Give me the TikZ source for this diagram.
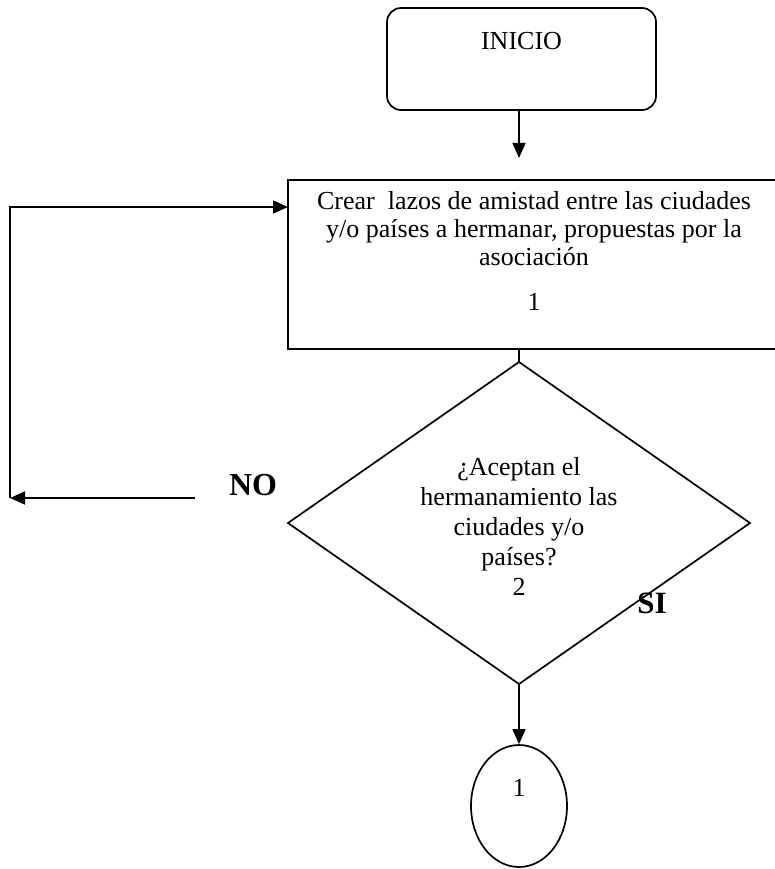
\documentclass[tikz,border=0pt]{standalone}
\usepackage{fontspec}
\setmainfont{Liberation Serif}
\usetikzlibrary{shapes.geometric,arrows.meta}
\begin{document}
\begin{tikzpicture}[x=1pt,y=-1pt,
  line width=1.7pt,
  every node/.style={font=\fontsize{26}{29.5}\selectfont},
  arr/.style={-{Triangle[length=15pt,width=13pt]}},
  startbox/.style={draw,rounded corners=14pt,minimum width=269pt,minimum height=102pt,inner sep=0pt},
  procbox/.style={draw,minimum width=492pt,minimum height=169pt,inner sep=0pt},
  decbox/.style={draw,diamond,shape aspect=1.43,minimum width=462pt,minimum height=322pt,inner sep=0pt,outer sep=0pt,align=center},
  connbox/.style={draw,ellipse,minimum width=96pt,minimum height=122pt,inner sep=0pt},
  lbl/.style={font=\bfseries\fontsize{32}{36}\selectfont,inner sep=0pt}]
\useasboundingbox (0,0) rectangle (775,869);

\node[startbox,label={[yshift=17.5pt]center:INICIO}] (start) at (521.5,59) {};
\node[procbox,label={[yshift=13.5pt,align=center,font=\fontsize{26}{28}\selectfont]center:{Crear\ \ lazos de amistad entre las ciudades\\ y/o países a hermanar, propuestas por la\\ asociación\\[17pt] 1}}] (proc) at (534,264.5) {};
\node[decbox,font=\fontsize{26}{30}\selectfont,label={[yshift=-3pt,align=center,font=\fontsize{26}{30}\selectfont]center:{¿Aceptan el\\ hermanamiento las\\ ciudades y/o\\ países?\\ 2}}] (dec) at (519,523) {};
\node[connbox,label={[yshift=18pt]center:1}] (conn) at (519,806) {};

\node[lbl] (no) at (253,485) {NO};
\node[lbl,font=\bfseries\fontsize{31}{35}\selectfont] (si) at (652,603) {SI};

\coordinate (nostart) at (195,498);
\coordinate (nocorner) at (10,498);
\coordinate (back) at (288,207);

\draw[arr,shorten >=22pt] (start.south -| 519,0) -- (519,180);
\draw (proc.south -| dec.north) -- (dec.north);
\draw[arr] (nostart) -- (nocorner);
\draw[arr] (nocorner) |- (back);
\draw[arr] (dec.south) -- (conn.north);
\end{tikzpicture}
\end{document}
